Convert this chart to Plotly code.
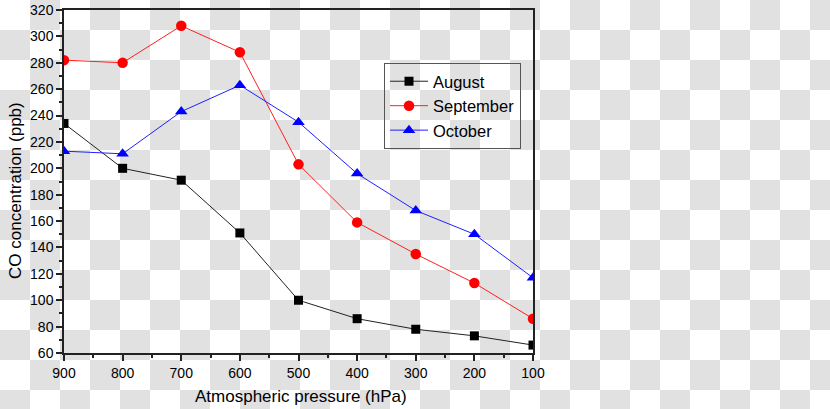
import base64
import plotly.graph_objects as go

# Data
pressure = [900, 800, 700, 600, 500, 400, 300, 200, 100]
august = [234, 200, 191, 151, 100, 86, 78, 73, 66]
september = [282, 280, 308, 288, 203, 159, 135, 113, 86]
october = [213, 211, 243, 263, 235, 196, 168, 150, 117]

W, H = 830, 409
ML, MR, MT, MB = 64, 297, 10, 56

# checkerboard backdrop (transparent-image look of the reference)
svg = (
    f"<svg xmlns='http://www.w3.org/2000/svg' width='{W}' height='{H}' viewBox='0 0 {W} {H}' preserveAspectRatio='none'>"
    "<defs><pattern id='c' width='60' height='60' patternUnits='userSpaceOnUse'>"
    "<rect width='60' height='60' fill='#ffffff'/>"
    "<rect x='30' y='0' width='30' height='30' fill='#e1e1e1'/>"
    "<rect x='0' y='30' width='30' height='30' fill='#e1e1e1'/>"
    "</pattern></defs>"
    f"<rect width='{W}' height='{H}' fill='url(#c)'/></svg>"
)
bg_src = "data:image/svg+xml;base64," + base64.b64encode(svg.encode()).decode()

pw = W - ML - MR
ph = H - MT - MB

fig = go.Figure()
fig.add_trace(go.Scatter(
    x=pressure, y=august, name="August", mode="lines+markers",
    line=dict(color="#222222", width=1),
    marker=dict(symbol="square", size=9, color="black")
))
fig.add_trace(go.Scatter(
    x=pressure, y=september, name="September", mode="lines+markers",
    line=dict(color="#ff2020", width=1),
    marker=dict(symbol="circle", size=10.5, color="red")
))
fig.add_trace(go.Scatter(
    x=pressure, y=october, name="October", mode="lines+markers",
    line=dict(color="#2020ff", width=1),
    marker=dict(symbol="triangle-up", size=11, color="blue")
))

axis_common = dict(
    showline=True, linecolor="#222222", linewidth=1.5, mirror=True,
    ticks="outside", ticklen=6, tickwidth=1.5, tickcolor="#222222",
    showgrid=False, zeroline=False, automargin=False,
    tickfont=dict(family="Liberation Sans, Arial", size=14, color="black"),
)

fig.update_layout(
    width=W, height=H,
    margin=dict(l=ML, r=MR, t=MT, b=MB),
    paper_bgcolor="rgba(0,0,0,0)",
    plot_bgcolor="rgba(0,0,0,0)",
    font=dict(family="Liberation Sans, Arial", color="black"),
    xaxis=dict(
        range=[900, 100], dtick=100, tick0=0,
        minor=dict(ticks="outside", ticklen=3, tickwidth=1.5, tickcolor="#222222", dtick=50),
        **axis_common
    ),
    yaxis=dict(
        range=[60, 320], dtick=20, tick0=0,
        minor=dict(ticks="outside", ticklen=3, tickwidth=1.5, tickcolor="#222222", dtick=10),
        **axis_common
    ),
    legend=dict(
        x=(384 - ML) / pw, y=(H - MB - 63) / ph, xanchor="left", yanchor="top",
        bgcolor="rgba(0,0,0,0)", bordercolor="#555555", borderwidth=1,
        font=dict(size=16.5), tracegroupgap=0, itemwidth=38,
    ),
    # axis titles placed as annotations to sit where the reference has them
    annotations=[
        dict(text="Atmospheric pressure (hPa)", xref="paper", yref="paper",
             x=(301 - ML) / pw, y=(H - MB - 397) / ph, xanchor="center", yanchor="middle",
             showarrow=False, font=dict(size=17)),
        dict(text="CO concentration (ppb)", xref="paper", yref="paper", textangle=-90,
             x=(15 - ML) / pw, y=(H - MB - 191) / ph, xanchor="center", yanchor="middle",
             showarrow=False, font=dict(size=17)),
    ],
    images=[dict(
        source=bg_src, xref="paper", yref="paper",
        x=-ML / pw, y=1 + MT / ph, sizex=W / pw, sizey=H / ph,
        xanchor="left", yanchor="top", sizing="stretch", layer="below"
    )],
)

# drop the page's default body margin so the figure sits at the window's corner
fig.write_html("out.html", config={"displayModeBar": False},
               post_script="document.body.style.margin='0';")
